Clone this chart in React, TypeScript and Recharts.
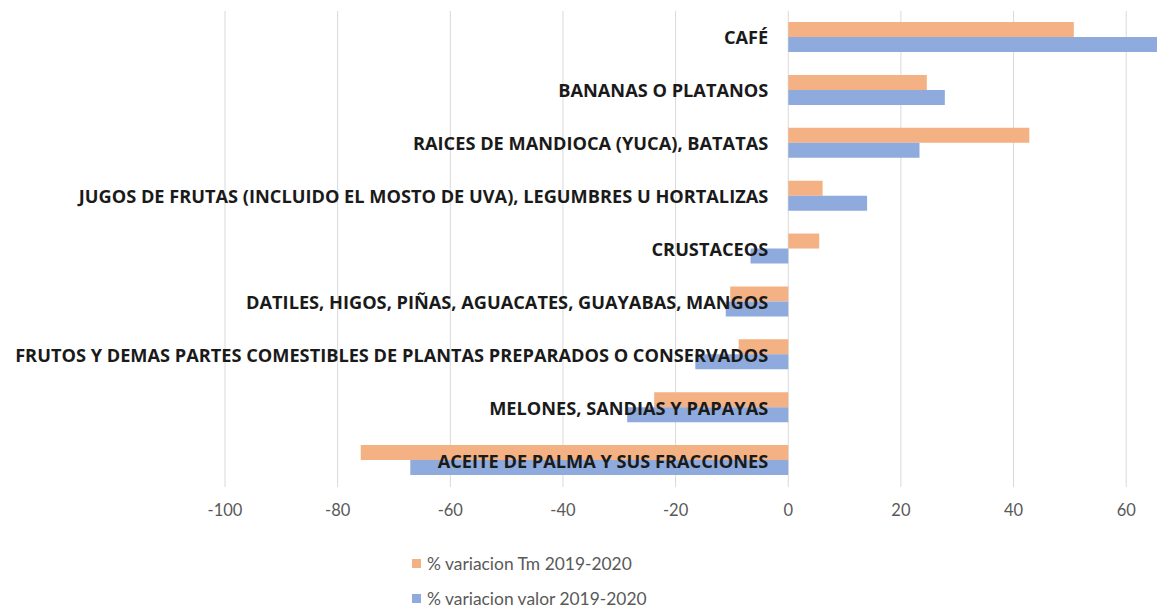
import { Bar, BarChart, CartesianGrid, Legend, XAxis, YAxis } from "recharts";

const categories = [
  "CAFÉ",
  "BANANAS O PLATANOS",
  "RAICES DE MANDIOCA (YUCA), BATATAS",
  "JUGOS DE FRUTAS (INCLUIDO EL MOSTO DE UVA), LEGUMBRES U HORTALIZAS",
  "CRUSTACEOS",
  "DATILES, HIGOS, PIÑAS, AGUACATES, GUAYABAS, MANGOS",
  "FRUTOS Y DEMAS PARTES COMESTIBLES DE PLANTAS PREPARADOS O CONSERVADOS",
  "MELONES, SANDIAS Y PAPAYAS",
  "ACEITE DE PALMA Y SUS FRACCIONES",
];
const tmVariation = [50.7, 24.6, 42.8, 6.1, 5.5, -10.3, -8.8, -23.8, -75.9];
const valueVariation = [66.0, 27.8, 23.3, 14.0, -6.7, -11.1, -16.5, -28.6, -67.1];
const xTicks = [-100, -80, -60, -40, -20, 0, 20, 40, 60];
const seriesNames = ["% variacion Tm 2019-2020", "% variacion valor 2019-2020"];

const data = categories.map((name, i) => ({
  name,
  tm: tmVariation[i],
  valor: valueVariation[i],
}));

const ORANGE = "#F4B183";
const BLUE = "#8FAADC";
const FONT = "Lato, 'Open Sans', sans-serif";
const LABEL_FONT = "'Open Sans', Lato, sans-serif";

const CHART_W = 1157;
const CHART_H = 600;
const MARGIN = { top: 3, right: 5, bottom: 0, left: 207 };
const Y_AXIS_W = 10;
const X_MIN = -100;
const X_MAX = 66;
const PLOT_LEFT = MARGIN.left + Y_AXIS_W;
const PLOT_W = CHART_W - PLOT_LEFT - MARGIN.right;
const ZERO_X = PLOT_LEFT + ((0 - X_MIN) / (X_MAX - X_MIN)) * PLOT_W;

function CategoryTick(props: any) {
  const { y, payload } = props;
  return (
    <text
      x={ZERO_X - 20}
      y={y}
      textAnchor="end"
      dominantBaseline="central"
      fontFamily={LABEL_FONT}
      fontWeight={700}
      fontSize={18.2}
      fill="#1a1a1a"
    >
      {payload.value}
    </text>
  );
}

function LegendContent() {
  const colors = [ORANGE, BLUE];
  return (
    <div style={{ fontFamily: FONT, fontSize: 17.4, color: "#595959" }}>
      {seriesNames.map((n, i) => (
        <div key={n} style={{ display: "flex", alignItems: "center", height: 35 }}>
          <span
            style={{
              display: "inline-block",
              width: 9,
              height: 9,
              background: colors[i],
              marginRight: 6,
            }}
          />
          {n}
        </div>
      ))}
    </div>
  );
}

export default function App() {
  return (
    <BarChart
      width={CHART_W}
      height={CHART_H}
      data={data}
      layout="vertical"
      margin={MARGIN}
      barGap={0}
      barSize={15}
    >
      <CartesianGrid horizontal={false} stroke="#d9d9d9" />
      <Bar dataKey="tm" name={seriesNames[0]} fill={ORANGE} isAnimationActive={false} />
      <Bar dataKey="valor" name={seriesNames[1]} fill={BLUE} isAnimationActive={false} />
      <XAxis
        type="number"
        domain={[X_MIN, X_MAX]}
        ticks={xTicks}
        allowDataOverflow
        axisLine={false}
        tickLine={false}
        tickMargin={11}
        height={61}
        tick={{ fill: "#595959", fontSize: 16.5, fontFamily: FONT }}
      />
      <YAxis
        type="category"
        dataKey="name"
        width={Y_AXIS_W}
        axisLine={false}
        tickLine={false}
        tick={CategoryTick}
        interval={0}
      />
      <Legend
        verticalAlign="bottom"
        layout="vertical"
        content={LegendContent}
        wrapperStyle={{ left: 404, width: 300, height: 60, top: 538 }}
      />
    </BarChart>
  );
}
